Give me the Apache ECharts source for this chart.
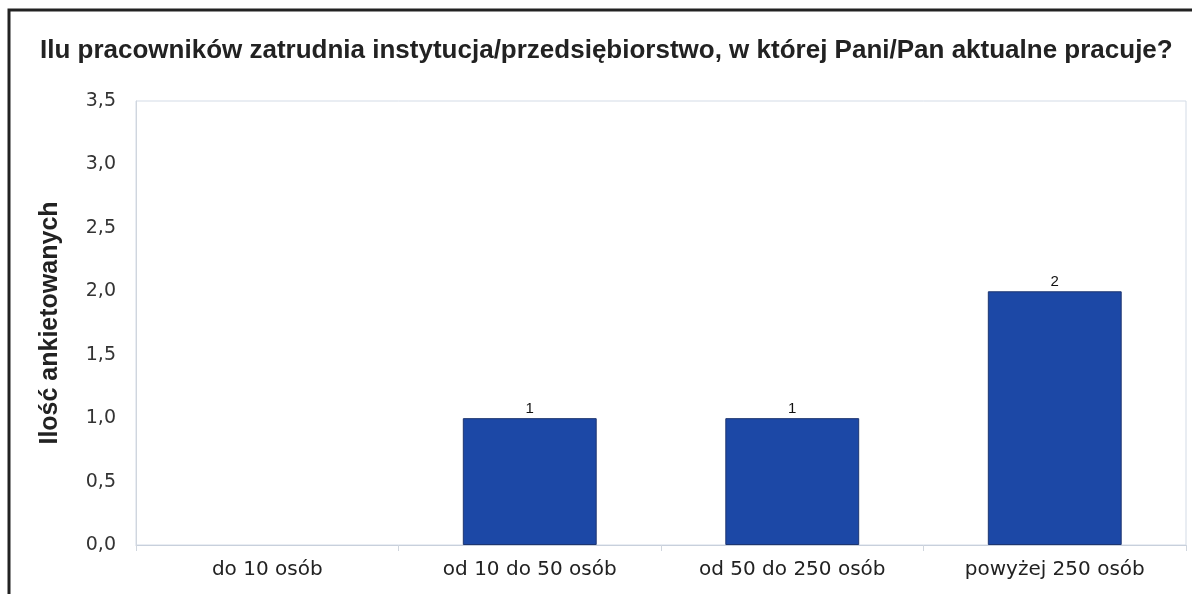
<!DOCTYPE html>
<html>
<head>
<meta charset="utf-8">
<script src="https://cdn.jsdelivr.net/npm/echarts@6/dist/echarts.min.js"></script>
<style>
  html, body { margin: 0; padding: 0; background: #fff; }
  #chart { width: 1192px; height: 594px; }
</style>
</head>
<body>
<div id="chart"></div>
<script>
// dane wykresu
var categories = ['do 10 osób', 'od 10 do 50 osób', 'od 50 do 250 osób', 'powyżej 250 osób'];
var values = [0, 1, 1, 2];
var yTicks = [0, 0.5, 1, 1.5, 2, 2.5, 3, 3.5];

var chart = echarts.init(document.getElementById('chart'));

// słupki o wartości 0 bez obramowania
var barData = values.map(function (v) {
    return v === 0 ? { value: v, itemStyle: { borderWidth: 0, opacity: 0 } } : v;
});

var option = {
    animation: false,
    backgroundColor: '#fff',
    title: {
        text: 'Ilu pracowników zatrudnia instytucja/przedsiębiorstwo, w której Pani/Pan aktualne pracuje?',
        left: 35,
        top: 33,
        textStyle: {
            fontFamily: 'Liberation Sans',
            fontWeight: 'bold',
            fontSize: 26,
            color: '#222'
        }
    },
    // ramka wokół wykresu
    graphic: [{
        type: 'rect',
        shape: { x: 9, y: 10, width: 1200, height: 600 },
        style: { fill: 'none', stroke: '#222', lineWidth: 3 },
        silent: true
    }],
    grid: {
        left: 136,
        right: 6,
        top: 101,
        bottom: 49,
        show: true,
        borderColor: '#d3dbe6',
        borderWidth: 1
    },
    xAxis: {
        type: 'category',
        data: categories,
        axisLine: { lineStyle: { color: '#c8d0dc' } },
        axisTick: { show: true, length: 6, alignWithLabel: false, lineStyle: { color: '#d0d6de' } },
        axisLabel: {
            fontFamily: 'DejaVu Sans',
            fontSize: 20,
            color: '#222',
            margin: 15
        }
    },
    yAxis: {
        type: 'value',
        min: yTicks[0],
        max: yTicks[yTicks.length - 1],
        interval: 0.5,
        name: 'Ilość ankietowanych',
        nameLocation: 'middle',
        nameGap: 73,
        nameTextStyle: {
            fontFamily: 'Liberation Sans',
            fontWeight: 'bold',
            fontSize: 25,
            color: '#222'
        },
        splitLine: { show: false },
        axisLine: { show: true, lineStyle: { color: '#d0d6de' } },
        axisTick: { show: false },
        axisLabel: {
            fontFamily: 'DejaVu Sans',
            fontSize: 19,
            color: '#333',
            margin: 20,
            formatter: function (v) {
                return v.toFixed(1).replace('.', ',');
            }
        }
    },
    series: [{
        type: 'bar',
        data: barData,
        barWidth: '51%',
        itemStyle: {
            color: '#1c48a6',
            borderColor: '#1d3570',
            borderWidth: 1
        },
        label: {
            show: true,
            position: 'top',
            distance: 2,
            fontFamily: 'Liberation Sans',
            fontSize: 15,
            color: '#111',
            formatter: function (p) {
                return p.value > 0 ? p.value : '';
            }
        }
    }]
};

chart.setOption(option);
</script>
</body>
</html>
